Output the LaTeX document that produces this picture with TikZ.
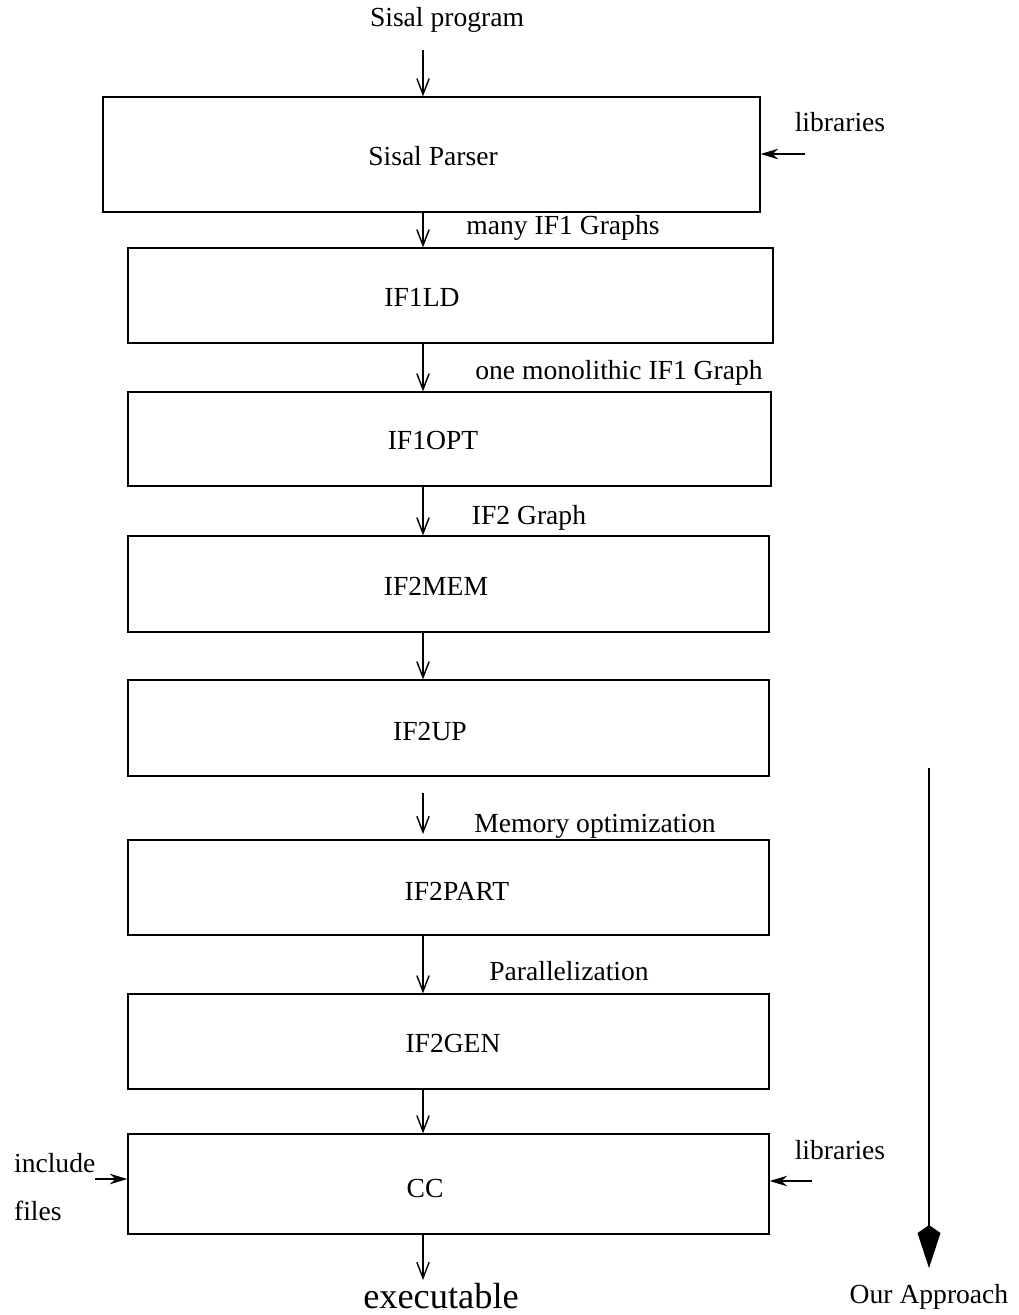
\documentclass[tikz,border=0pt]{standalone}
\usepackage{fontspec}
\setmainfont{Liberation Serif}
\usetikzlibrary{positioning,arrows.meta}

\begin{document}
\begin{tikzpicture}[
  x=0.02cm, y=-0.02cm,
  font=\fontsize{15.7}{18}\selectfont,
  every node/.style={inner sep=1pt},
  stagebox/.style={
    rectangle, draw=black, line width=0.8pt,
    minimum width=12.82cm, minimum height=1.9cm,
  },
  flow/.style={-{Straight Barb[length=9pt,width=7pt,line width=0.8pt]}, line width=0.7pt},
  feed/.style={-{Stealth[length=10pt,width=6pt]}, line width=0.8pt},
  approach/.style={-{Kite[length=0.86cm,width=0.46cm,inset=0.16cm]}, line width=1.3pt},
]
\useasboundingbox (0,0) rectangle (1018,1315);

% ----- x of the main flow -----
\coordinate (ax) at (423,0);

% ----- stage boxes -----
\node[stagebox, minimum width=13.14cm, minimum height=2.3cm] (parser) at (431.5,154.5) {};
\node[stagebox, minimum width=12.9cm] (ld) at (450.5,295.5) {};
\node[stagebox, minimum width=12.86cm, minimum height=1.88cm] (opt) at (449.5,439) {};
\node[stagebox, minimum height=1.92cm] (mem) at (448.5,584) {};
\node[stagebox, minimum height=1.92cm] (up) at (448.5,728) {};
\node[stagebox] (part) at (448.5,887.5) {};
\node[stagebox] (gen) at (448.5,1041.5) {};
\node[stagebox, minimum height=2.0cm] (cc) at (448.5,1184) {};

% ----- stage names -----
\node (parsertxt) at (433,156) {Sisal Parser};
\node (ldtxt) at (422,297) {IF1LD};
\node (opttxt) at (433,440) {IF1OPT};
\node (memtxt) at (436,586) {IF2MEM};
\node (uptxt) at (430,731) {IF2UP};
\node (parttxt) at (457,891) {IF2PART};
\node (gentxt) at (453,1043) {IF2GEN};
\node (cctxt) at (425,1188) {CC};

% ----- input / output -----
\node (prog) at (447,20) {Sisal program};
\node[font=\fontsize{20.7}{24}\selectfont] (exe) at (441,1296) {executable};

% ----- main flow arrows -----
\draw[flow] (ax |- 0,50) -- (ax |- parser.north);
\draw[flow] (ax |- parser.south) -- (ax |- ld.north);
\draw[flow] (ax |- ld.south) -- (ax |- opt.north);
\draw[flow] (ax |- opt.south) -- (ax |- mem.north);
\draw[flow] (ax |- mem.south) -- (ax |- up.north);
\draw[flow, shorten <=9pt, shorten >=3pt] (ax |- up.south) -- (ax |- part.north);
\draw[flow] (ax |- part.south) -- (ax |- gen.north);
\draw[flow] (ax |- gen.south) -- (ax |- cc.north);
\draw[flow] (ax |- cc.south) -- (ax |- 0,1280);

% ----- edge labels -----
\node (e1) at (563,228) {many IF1 Graphs};
\node (e2) at (619,373) {one monolithic IF1 Graph};
\node (e3) at (529,518) {IF2 Graph};
\node (e4) at (595,826) {Memory optimization};
\node (e5) at (569,971) {Parallelization};

% ----- libraries and include files -----
\node (lib1) at (840,122) {libraries};
\coordinate (lib1in) at (805,154);
\draw[feed] (lib1in) -- (parser.east |- lib1in);

\node (lib2) at (840,1150) {libraries};
\coordinate (lib2in) at (812,1181);
\draw[feed] (lib2in) -- (cc.east |- lib2in);

\node[anchor=west] (inc) at (12,1163) {include};
\node[anchor=west] (files) at (12,1211) {files};
\coordinate (incin) at (95,1179);
\draw[feed] (incin) -- (cc.west |- incin);

% ----- our approach -----
\node (appr) at (929,1297) {Our Approach};
\coordinate (apprtop) at (929,768);
\draw[approach] (apprtop) -- (929,1268);

\end{tikzpicture}
\end{document}
